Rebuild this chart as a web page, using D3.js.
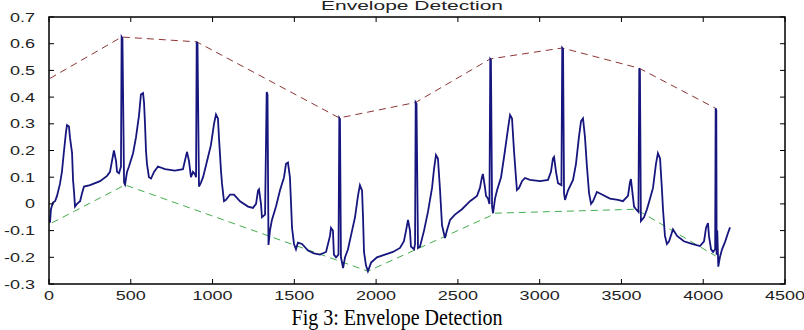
<!DOCTYPE html>
<html><head><meta charset="utf-8">
<script src="https://cdn.jsdelivr.net/npm/d3@7"></script>
<style>body{margin:0;background:#fff}svg{display:block}</style>
</head><body>
<svg id="c" width="804" height="330"></svg>
<script>
const title = "Envelope Detection";
const caption = "Fig 3: Envelope Detection";
const xTicks = [0,500,1000,1500,2000,2500,3000,3500,4000,4500];
const yTicks = [-0.3,-0.2,-0.1,0,0.1,0.2,0.3,0.4,0.5,0.6,0.7];
const yTickLabels = ["-0.3","-0.2","-0.1","0","0.1","0.2","0.3","0.4","0.5","0.6","0.7"];

const sigX = [6,12,24,37,49,67,79,92,104,110,122,128,141,147,153,159,171,190,202,214,251,312,355,373,385,397,410,416,428,440,444,449,459,465,477,489,514,532,550,562,575,581,587,593,599,611,624,642,666,709,770,819,838,844,856,868,880,893,899,903,908,917,929,942,966,990,1009,1021,1033,1039,1052,1058,1070,1082,1107,1131,1168,1217,1247,1266,1278,1284,1296,1302,1321,1331,1336,1342,1351,1363,1388,1412,1437,1449,1461,1473,1480,1486,1498,1510,1522,1547,1584,1620,1657,1694,1718,1724,1736,1742,1755,1770,1775,1779,1785,1798,1810,1828,1853,1871,1889,1901,1914,1920,1926,1938,1950,1969,2005,2054,2103,2146,2170,2183,2195,2207,2213,2232,2238,2242,2247,2256,2268,2293,2317,2342,2354,2366,2378,2391,2403,2421,2433,2452,2482,2525,2574,2617,2635,2647,2653,2666,2672,2684,2693,2698,2702,2709,2715,2727,2739,2764,2788,2806,2819,2831,2843,2855,2861,2874,2892,2910,2941,3002,3051,3069,3081,3088,3100,3112,3133,3138,3143,3149,3155,3173,3204,3222,3240,3253,3265,3277,3289,3302,3314,3326,3350,3381,3430,3479,3509,3540,3552,3558,3564,3577,3589,3604,3609,3613,3619,3638,3656,3675,3693,3711,3723,3736,3748,3754,3766,3778,3791,3815,3840,3882,3931,3980,4005,4017,4029,4035,4048,4060,4073,4076,4080,4082,4086,4092,4102,4115,4133,4151,4164];
const sigY = [-0.07,-0.02,0.005,0.01,0.03,0.075,0.12,0.2,0.27,0.295,0.29,0.25,0.19,0.09,0.045,-0.01,0.0,0.01,0.04,0.065,0.07,0.085,0.105,0.12,0.16,0.2,0.16,0.12,0.115,0.14,0.625,0.62,0.08,0.072,0.12,0.14,0.19,0.25,0.33,0.41,0.415,0.38,0.3,0.2,0.15,0.1,0.095,0.12,0.14,0.13,0.125,0.13,0.18,0.195,0.16,0.1,0.12,0.11,0.1,0.607,0.6,0.065,0.08,0.1,0.16,0.22,0.3,0.335,0.32,0.25,0.12,0.075,0.01,0.015,0.035,0.035,0.01,-0.01,-0.015,0.0,0.05,0.055,0.0,-0.05,-0.04,0.419,0.41,-0.154,-0.1,-0.06,-0.01,0.05,0.1,0.15,0.155,0.1,0.0,-0.09,-0.15,-0.17,-0.145,-0.15,-0.175,-0.185,-0.19,-0.18,-0.12,-0.09,-0.1,-0.19,-0.2,-0.19,0.322,0.318,-0.2,-0.24,-0.2,-0.17,-0.1,-0.05,0.03,0.07,0.05,-0.05,-0.18,-0.23,-0.252,-0.22,-0.2,-0.19,-0.18,-0.165,-0.14,-0.1,-0.06,-0.1,-0.16,-0.17,-0.15,0.38,0.375,-0.165,-0.16,-0.1,-0.03,0.06,0.13,0.183,0.17,0.05,-0.08,-0.128,-0.1,-0.06,-0.04,-0.02,0.01,0.03,0.06,0.1,0.112,0.06,0.03,0.02,0.0,0.543,0.54,-0.01,-0.035,0.02,0.05,0.1,0.2,0.28,0.333,0.32,0.2,0.1,0.052,0.06,0.085,0.097,0.09,0.085,0.09,0.12,0.17,0.176,0.12,0.078,0.07,0.584,0.58,0.04,0.015,0.05,0.09,0.15,0.25,0.31,0.32,0.25,0.14,0.04,0.0,0.01,0.045,0.035,0.02,0.015,0.01,0.03,0.08,0.093,0.06,-0.01,-0.02,-0.03,0.508,0.5,-0.064,-0.05,-0.02,0.02,0.06,0.15,0.19,0.17,0.05,-0.02,-0.12,-0.15,-0.14,-0.095,-0.12,-0.14,-0.15,-0.158,-0.14,-0.09,-0.072,-0.12,-0.17,-0.18,-0.17,0.358,0.35,-0.19,-0.1,-0.235,-0.2,-0.17,-0.143,-0.11,-0.088];

const upperX = [6,444,903,1775,2242,2698,3138,3609,4076];
const upperY = [0.47,0.625,0.607,0.322,0.38,0.543,0.584,0.508,0.358];
const lowerX = [18,465,1950,2698,2715,3589,4076];
const lowerY = [-0.071,0.071,-0.252,-0.045,-0.035,-0.02,-0.195];

const L = 49, R = 785, T = 17, B = 284;
const svg = d3.select("#c");
const x = d3.scaleLinear().domain([0,4500]).range([L,R]);
const y = d3.scaleLinear().domain([-0.3,0.7]).range([B,T]);

const line = d3.line().x(d => x(d[0])).y(d => y(d[1]));
const zip = (a,b) => a.map((v,i) => [v,b[i]]);

svg.append("path").attr("d", line(zip(upperX,upperY)))
  .attr("fill","none").attr("stroke","#8e3434").attr("stroke-width",1)
  .attr("stroke-dasharray","7,5");
svg.append("path").attr("d", line(zip(lowerX,lowerY)))
  .attr("fill","none").attr("stroke","#44ad4c").attr("stroke-width",1)
  .attr("stroke-dasharray","7,5");

svg.append("path").attr("d", line(zip(sigX,sigY)))
  .attr("fill","none").attr("stroke","#16167e").attr("stroke-width",1.8)
  .attr("stroke-linejoin","miter");

svg.append("rect").attr("x",L).attr("y",T).attr("width",R-L).attr("height",B-T)
  .attr("fill","none").attr("stroke","#000").attr("stroke-width",1.5);

const tk = 5;
const g = svg.append("g").attr("stroke","#000").attr("stroke-width",1);
xTicks.forEach(v => {
  g.append("line").attr("x1",x(v)).attr("x2",x(v)).attr("y1",B).attr("y2",B-tk);
  g.append("line").attr("x1",x(v)).attr("x2",x(v)).attr("y1",T).attr("y2",T+tk);
});
yTicks.forEach(v => {
  g.append("line").attr("x1",L).attr("x2",L+tk).attr("y1",y(v)).attr("y2",y(v));
  g.append("line").attr("x1",R).attr("x2",R-tk).attr("y1",y(v)).attr("y2",y(v));
});

const sx = 1.5;
const font = "'Liberation Sans', Arial, sans-serif";
function wide(t){ const w = t.node().getComputedTextLength(); t.attr("textLength", w*sx).attr("lengthAdjust","spacingAndGlyphs"); }
xTicks.forEach(v => {
  const t = svg.append("text").attr("x",x(v)).attr("y",300)
    .attr("text-anchor","middle").attr("font-family",font).attr("font-size",12)
    .attr("fill","#222").text(String(v));
  wide(t);
});
yTicks.forEach((v,i) => {
  const t = svg.append("text").attr("x",35).attr("y",y(v)+4.5)
    .attr("text-anchor","end").attr("font-family",font).attr("font-size",12)
    .attr("fill","#222").text(yTickLabels[i]);
  wide(t);
});

svg.append("text").attr("x",412).attr("y",9.5).attr("text-anchor","middle")
  .attr("font-family",font).attr("font-size",12).attr("fill","#222")
  .attr("textLength",182).attr("lengthAdjust","spacingAndGlyphs").text(title);

svg.append("text").attr("x",397).attr("y",325).attr("text-anchor","middle")
  .attr("font-family","'Liberation Serif', 'Times New Roman', serif").attr("font-size",23)
  .attr("fill","#000").attr("textLength",211).attr("lengthAdjust","spacingAndGlyphs").text(caption);
</script>
</body></html>
